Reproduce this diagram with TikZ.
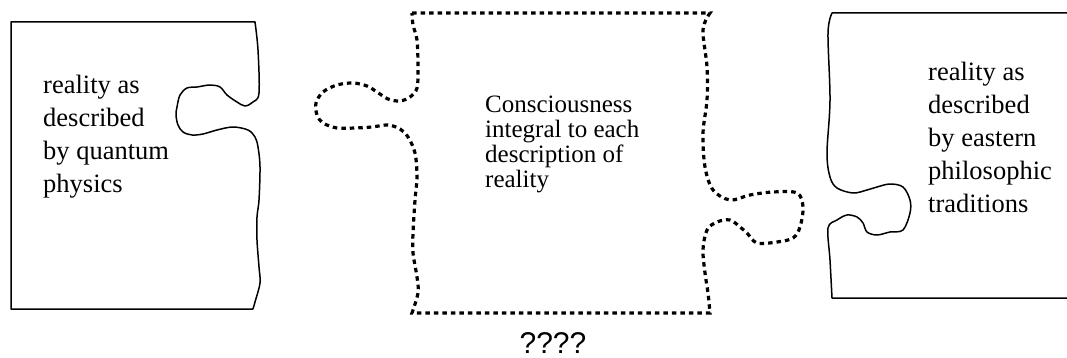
\documentclass[tikz,border=0pt]{standalone}
\usepackage{fontspec}
\setmainfont{Liberation Serif}
\newfontfamily\qsans{Liberation Sans}
\begin{document}
\begin{tikzpicture}[x=1pt,y=-1pt,
  solidpiece/.style={line width=1.5pt,line join=round},
  dotpiece/.style={line width=3.2pt,dash pattern=on 4.5pt off 4pt},
  piecetext/.style={anchor=north west,inner sep=0pt,align=left,font=\fontsize{26.5}{33}\selectfont},
  midtext/.style={anchor=north west,inner sep=0pt,align=left,font=\fontsize{25}{25}\selectfont}]
\useasboundingbox (0,0) rectangle (1067,358);
% left piece
\draw[solidpiece] (253,309) -- (11,309) -- (11,22) -- (255,22)
  -- plot[smooth,tension=0.55] coordinates {(255,22) (258,50) (259,93) (253,102) (245,106) (237,102) (227,95) (220,87) (210,85) (197,87) (187,88) (180,95) (177,107) (176,115) (178,125) (183,132) (192,135) (203,134) (217,130) (233,127) (248,130) (255,137) (258,147) (260,167) (259,200) (257,217) (257,240) (259,267) (260,283) (255,302) (253,309)};
% middle piece
\draw[dotpiece] (412,13) -- (710,13)
  -- plot[smooth,tension=0.55] coordinates {(710,13) (703,30) (707,67) (707,100) (703,133) (705,167) (713,190) (730,200) (750,195) (773,192) (797,193) (803,207) (800,227) (793,238) (777,242) (757,243) (747,233) (740,227) (730,220) (717,222) (707,230) (703,250) (705,273) (708,293) (710,313)}
  -- (412,313)
  -- plot[smooth,tension=0.55] coordinates {(412,313) (418,293) (417,277) (413,253) (413,233) (415,200) (417,177) (415,153) (408,137) (400,129) (388,125) (372,127) (355,128) (337,128) (323,123) (317,115) (316,103) (323,92) (337,85) (353,83) (367,86) (377,92) (388,99) (400,101) (410,97) (417,88) (418,67) (417,40) (413,25) (412,13)};
% right piece
\draw[solidpiece] (1067,13) -- (832,13)
  -- plot[smooth,tension=0.55] coordinates {(832,13) (828,33) (830,100) (827,153) (830,177) (837,188) (853,193) (867,190) (877,187) (890,184) (903,187) (910,200) (910,213) (903,230) (890,232) (877,235) (867,232) (863,223) (857,217) (847,215) (837,220) (828,228) (830,260) (832,298)}
  -- (1067,298);
% texts
\node[piecetext] (lt) at (43,75) {reality as\\described\\by quantum\\physics};
\node[midtext] (mt) at (485,95.5) {Consciousness\\integral to each\\description of\\reality};
\node[piecetext] (rt) at (928,62) {reality as\\described\\by eastern\\philosophic\\traditions};
\node[anchor=base,inner sep=0pt,font=\qsans\fontsize{30}{30}\selectfont] (q) at (553,353) {????};
\end{tikzpicture}
\end{document}
